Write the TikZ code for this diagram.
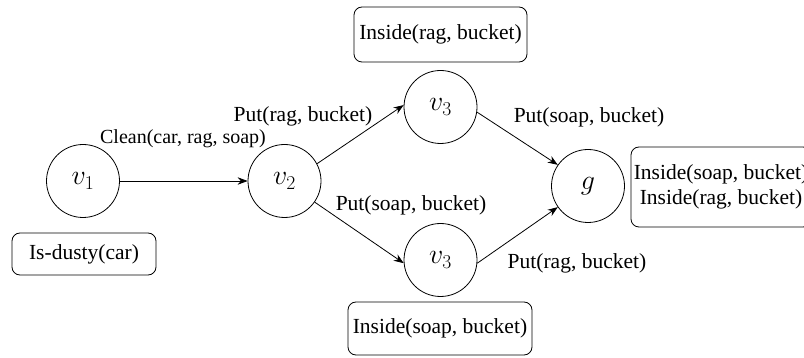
\RequirePackage{fix-cm}
\documentclass[tikz,border=0pt]{standalone}
\usepackage{fontspec}
\setmainfont{Liberation Serif}
\usetikzlibrary{arrows.meta}
\begin{document}
\begin{tikzpicture}[x=1pt,y=-1pt,
  state/.style={draw,circle,minimum size=73pt,inner sep=0pt,line width=0.8pt,font=\fontsize{28}{30}\selectfont},
  factbox/.style={draw,rounded corners=8pt,inner sep=0pt,line width=0.8pt,align=center,font=\fontsize{21.5}{25}\selectfont},
  lbl/.style={inner sep=0pt,font=\fontsize{21.5}{24}\selectfont},
  conn/.style={line width=0.8pt,-{Stealth[length=10pt,width=7.5pt]}}]
\useasboundingbox (0,0) rectangle (804,358);
\clip (0,0) rectangle (804,358);
\node[state] (v1) at (83,181) {$v_1$};
\node[state] (v2) at (284.5,181) {$v_2$};
\node[state] (v3a) at (440.5,107) {$v_3$};
\node[state] (v3b) at (440.5,260) {$v_3$};
\node[state] (g) at (588,186) {$g$};
\node[factbox,minimum width=144pt,minimum height=42pt] (dusty) at (84,254) {Is-dusty(car)};
\node[factbox,minimum width=173pt,minimum height=55pt] (topbox) at (440.5,34.5) {Inside(rag, bucket)};
\node[factbox,minimum width=184pt,minimum height=53pt] (botbox) at (440,328.5) {Inside(soap, bucket)};
\node[factbox,minimum width=180pt,minimum height=80pt] (rightbox) at (721,187) {Inside(soap, bucket)\\Inside(rag, bucket)};
\draw[conn] (v1.east) -- (v2.west);
\draw[conn] (v2.28) -- (v3a.177);
\draw[conn] (v3a.-8) -- (g.145);
\draw[conn] (v2.-35) -- (v3b.185);
\draw[conn] (v3b.-5) -- (g.215);
\node[lbl,font=\fontsize{20}{22}\selectfont] (lclean) at (183,139) {Clean(car, rag, soap)};
\node[lbl] (lputa) at (303,116) {Put(rag, bucket)};
\node[lbl] (lputb) at (589,117) {Put(soap, bucket)};
\node[lbl] (lputc) at (411,205) {Put(soap, bucket)};
\node[lbl] (lputd) at (577,263) {Put(rag, bucket)};
\end{tikzpicture}
\end{document}
